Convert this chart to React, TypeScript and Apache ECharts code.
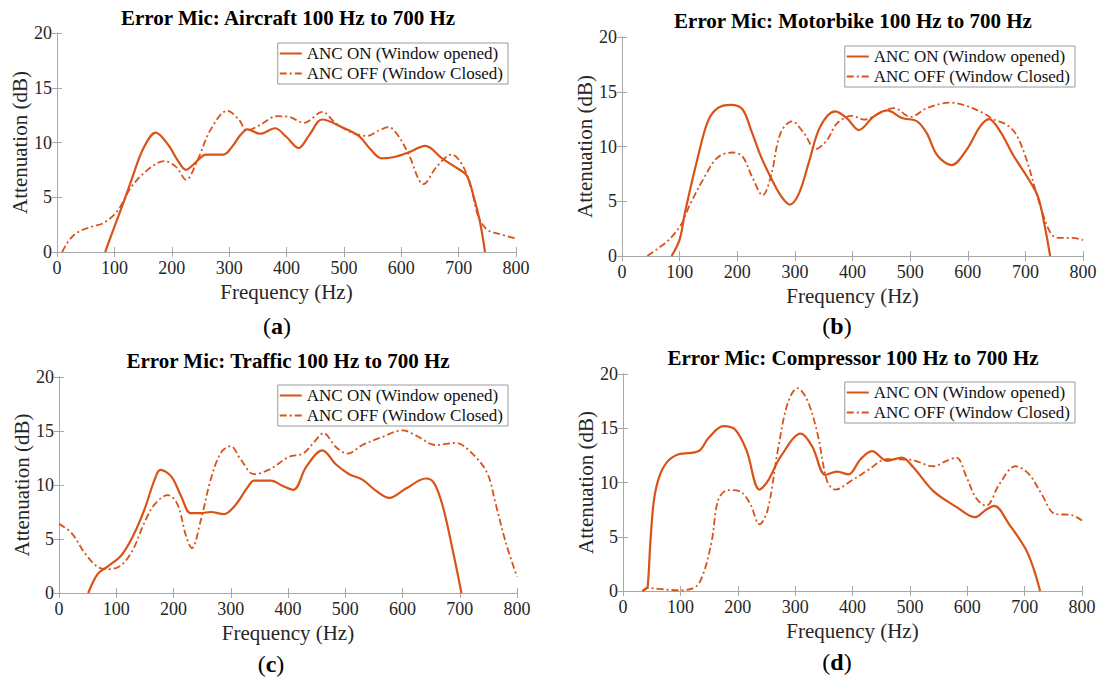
import React, { useEffect, useRef } from "react";
import * as echarts from "echarts";

type Pt = [number, number];

const panelTitles = [
  "Error Mic: Aircraft 100 Hz to 700 Hz",
  "Error Mic: Motorbike 100 Hz to 700 Hz",
  "Error Mic: Traffic 100 Hz to 700 Hz",
  "Error Mic: Compressor 100 Hz to 700 Hz",
];
const panelLetters = ["a", "b", "c", "d"];
const seriesNames = ["ANC ON (Window opened)", "ANC OFF (Window Closed)"];
const xTicks = { min: 0, max: 800, interval: 100 };
const yTicks = { min: 0, max: 20, interval: 5 };

const aircraftOn: Pt[] = [
  [84, 0], [100, 2.3], [115, 4.4], [130, 6.6], [150, 9.4], [172, 10.9], [195, 9.7], [210, 8.4],
  [225, 7.5], [240, 8.1], [260, 8.9], [290, 8.9], [305, 9.6], [320, 10.7], [332, 11.2], [354, 10.8],
  [380, 11.3], [400, 10.5], [421, 9.5], [440, 10.7], [462, 12.1], [497, 11.4], [526, 10.6],
  [546, 9.4], [566, 8.55], [590, 8.7], [613, 9.1], [642, 9.7], [671, 8.55], [699, 7.6], [714, 7.0],
  [725, 5.3], [737, 2.8], [746, 0],
];
const aircraftOff: Pt[] = [
  [9, 0], [20, 1.0], [36, 1.8], [60, 2.3], [83, 2.7], [106, 3.8], [129, 5.9], [158, 7.5], [187, 8.3],
  [207, 7.8], [225, 6.6], [245, 8.4], [268, 11.2], [297, 12.9], [317, 12.1], [331, 11.1], [354, 11.6],
  [383, 12.4], [403, 12.35], [431, 11.8], [462, 12.8], [485, 11.8], [514, 10.9], [540, 10.6],
  [561, 11.1], [578, 11.4], [595, 10.6], [613, 8.9], [639, 6.2], [662, 7.8], [688, 8.9], [708, 7.8],
  [723, 5.6], [734, 3.3], [749, 2.07], [769, 1.67], [800, 1.23],
];
const motorbikeOn: Pt[] = [
  [86, 0], [100, 1.5], [109, 3.9], [132, 9.1], [149, 12.3], [166, 13.5], [189, 13.8], [209, 13.4],
  [224, 11.5], [241, 9.1], [258, 7.2], [275, 5.55], [291, 4.7], [307, 5.7], [324, 8.5], [344, 11.8],
  [370, 13.2], [390, 12.6], [411, 11.5], [437, 12.75], [460, 13.3], [486, 12.6], [512, 12.3],
  [529, 11.2], [547, 9.2], [572, 8.3], [598, 9.7], [621, 11.8], [637, 12.5], [656, 11.4], [679, 9.2],
  [707, 6.9], [722, 5.4], [733, 2.9], [743, 0],
];
const motorbikeOff: Pt[] = [
  [44, 0], [60, 0.6], [80, 1.4], [103, 2.9], [117, 4.6], [143, 7.2], [166, 9.0], [192, 9.45],
  [209, 9.1], [226, 7.2], [244, 5.55], [258, 7.2], [275, 11.2], [295, 12.3], [316, 11.2], [336, 9.75],
  [356, 10.6], [373, 12.1], [399, 12.8], [420, 12.45], [449, 13.1], [472, 13.5], [501, 12.7],
  [529, 13.5], [570, 14.0], [598, 13.7], [627, 13.05], [644, 12.5], [667, 12.0], [684, 11.1],
  [702, 8.8], [716, 6.3], [730, 3.9], [745, 2.0], [759, 1.65], [782, 1.65], [800, 1.45],
];
const trafficOn: Pt[] = [
  [51, 0], [68, 1.8], [85, 2.45], [109, 3.5], [129, 5.25], [149, 7.7], [167, 10.5], [177, 11.4],
  [196, 10.8], [213, 9.0], [230, 7.4], [248, 7.4], [265, 7.5], [288, 7.3], [309, 8.2], [329, 9.75],
  [341, 10.4], [370, 10.4], [391, 9.9], [409, 9.55], [432, 11.7], [460, 13.2], [484, 11.9],
  [507, 11.0], [530, 10.5], [554, 9.45], [577, 8.8], [606, 9.67], [641, 10.6], [655, 10.2],
  [670, 8.1], [687, 4.15], [703, 0],
];
const trafficOff: Pt[] = [
  [0, 6.4], [22, 5.55], [45, 3.7], [68, 2.4], [88, 2.2], [109, 2.6], [129, 4.0], [149, 6.5],
  [167, 8.2], [190, 9.07], [207, 8.2], [222, 5.25], [232, 4.16], [248, 6.8], [265, 10.5], [283, 13.0],
  [300, 13.6], [317, 12.4], [341, 11.0], [370, 11.5], [401, 12.6], [426, 12.9], [446, 14.0],
  [462, 14.8], [484, 13.5], [504, 12.9], [530, 13.7], [565, 14.45], [600, 15.06], [623, 14.6],
  [658, 13.7], [693, 13.9], [722, 12.9], [748, 11.1], [762, 8.4], [780, 4.75], [800, 1.5],
];
const compressorOn: Pt[] = [
  [34, 0], [40, 0.2], [43, 0.4], [48, 4.7], [54, 8.4], [63, 10.5], [77, 11.9], [97, 12.6],
  [132, 12.9], [149, 14.1], [175, 15.2], [195, 14.9], [215, 13.0], [238, 9.35], [252, 10.1],
  [275, 12.4], [310, 14.5], [330, 13.3], [353, 10.7], [373, 11.0], [393, 10.75], [414, 12.15],
  [434, 12.9], [460, 12.0], [486, 12.3], [506, 11.4], [541, 9.2], [581, 7.75], [613, 6.8],
  [633, 7.5], [647, 7.85], [673, 6.15], [702, 3.85], [716, 2.0], [727, 0],
];
const compressorOff: Pt[] = [
  [34, 0], [43, 0.28], [63, 0.2], [97, 0.06], [126, 0.37], [140, 1.6], [155, 4.7], [166, 8.4],
  [183, 9.3], [203, 9.2], [221, 8.1], [238, 6.15], [252, 7.45], [270, 13.0], [287, 17.3],
  [304, 18.7], [321, 17.6], [339, 14.5], [356, 10.1], [370, 9.35], [399, 10.2], [426, 11.1],
  [460, 12.15], [500, 12.1], [541, 11.5], [564, 12.0], [581, 12.3], [598, 10.6], [615, 8.6],
  [633, 7.85], [656, 9.85], [684, 11.5], [707, 10.8], [730, 8.9], [753, 7.1], [782, 7.0], [800, 6.5],
];

const panelData: Pt[][][] = [
  [aircraftOn, aircraftOff],
  [motorbikeOn, motorbikeOff],
  [trafficOn, trafficOff],
  [compressorOn, compressorOff],
];

// layout (pixels)
const grids = [
  { left: 57, top: 33, width: 459, height: 219 },
  { left: 622, top: 37, width: 461, height: 219 },
  { left: 59, top: 377, width: 458, height: 216 },
  { left: 623, top: 374, width: 459, height: 217 },
];
const titlePos = [
  [288, 18], [853, 21], [288, 361], [853, 358],
];
const letterPos = [
  [277, 326], [837, 326], [271, 664], [837, 662],
];
const legendPos = [
  { right: 598, top: 43 }, { right: 31, top: 46 }, { right: 598, top: 385 }, { right: 31, top: 382 },
];

const FONT = "Liberation Serif";
const ORANGE = "#D95319";
const AXIS = "#a8a8a8";
const TEXT = "#262626";

export default function App() {
  const ref = useRef<HTMLDivElement>(null);
  useEffect(() => {
    if (!ref.current) return;
    const chart = echarts.init(ref.current, undefined, { renderer: "svg" });

    const xAxes: any[] = [];
    const yAxes: any[] = [];
    const series: any[] = [];
    const legends: any[] = [];
    const graphics: any[] = [];

    grids.forEach((g, i) => {
      const common = {
        type: "value",
        gridIndex: i,
        splitLine: { show: false },
        axisLine: { show: true, lineStyle: { color: AXIS, width: 1 } },
        axisTick: { show: true, inside: true, length: 5, lineStyle: { color: AXIS, width: 1 } },
      };
      xAxes.push({
        ...common,
        ...xTicks,
        position: "bottom",
        axisLabel: { color: TEXT, fontFamily: FONT, fontSize: 18, margin: 7 },
        name: "Frequency (Hz)",
        nameLocation: "middle",
        nameGap: 29,
        nameTextStyle: { color: TEXT, fontFamily: FONT, fontSize: 21 },
      });
      yAxes.push({
        ...common,
        ...yTicks,
        position: "left",
        axisLabel: { color: TEXT, fontFamily: FONT, fontSize: 18, margin: 5 },
        name: "Attenuation (dB)",
        nameLocation: "middle",
        nameGap: 25,
        nameTextStyle: { color: TEXT, fontFamily: FONT, fontSize: 21 },
      });
    });
    grids.forEach((g, i) => {
      const common = {
        type: "value",
        gridIndex: i,
        splitLine: { show: false },
        axisLine: { show: true, lineStyle: { color: AXIS, width: 1 } },
        axisTick: { show: true, inside: true, length: 5, lineStyle: { color: AXIS, width: 1 } },
        axisLabel: { show: false },
      };
      xAxes.push({ ...common, ...xTicks, position: "top" });
      yAxes.push({ ...common, ...yTicks, position: "right" });
    });

    panelData.forEach((pair, i) => {
      pair.forEach((data, k) => {
        series.push({
          type: "line",
          name: seriesNames[k],
          xAxisIndex: i,
          yAxisIndex: i,
          data,
          symbol: "none",
          smooth: 0.35,
          clip: true,
          lineStyle:
            k === 0
              ? { color: ORANGE, width: 2.2, type: "solid" }
              : { color: ORANGE, width: 1.8, type: [7, 3, 2, 3] },
          itemStyle: { color: ORANGE },
        });
      });
      legends.push({
        data: seriesNames,
        orient: "vertical",
        right: legendPos[i].right,
        top: legendPos[i].top,
        itemWidth: 22,
        itemHeight: 14,
        itemGap: 3,
        padding: [2, 5, 2, 1],
        borderColor: "#9a9a9a",
        borderWidth: 1,
        borderRadius: 0,
        backgroundColor: "#ffffff",
        selectedMode: false,
        itemStyle: { opacity: 0 },
        textStyle: { color: "#111", fontFamily: FONT, fontSize: 17, lineHeight: 17 },
      });
      graphics.push({
        type: "text",
        x: titlePos[i][0],
        y: titlePos[i][1],
        style: {
          text: panelTitles[i],
          fill: "#000",
          fontFamily: FONT,
          fontSize: 21,
          fontWeight: "bold",
          textAlign: "center",
          textVerticalAlign: "middle",
        },
      });
      graphics.push({
        type: "text",
        x: letterPos[i][0],
        y: letterPos[i][1],
        style: {
          text: `{p|(}{b|${panelLetters[i]}}{p|)}`,
          fill: "#000",
          textAlign: "center",
          textVerticalAlign: "middle",
          rich: {
            p: { fontFamily: FONT, fontSize: 24, fill: "#000" },
            b: { fontFamily: FONT, fontSize: 24, fontWeight: "bold", fill: "#000" },
          },
        },
      });
    });

    chart.setOption({
      animation: false,
      backgroundColor: "#ffffff",
      grid: grids.map((g) => ({ ...g, containLabel: false })),
      xAxis: xAxes,
      yAxis: yAxes,
      legend: legends,
      series,
      graphic: graphics,
    });
    return () => chart.dispose();
  }, []);
  return (
    <div
      ref={ref}
      style={{ position: "absolute", left: 0, top: 0, width: 1106, height: 682 }}
    />
  );
}
